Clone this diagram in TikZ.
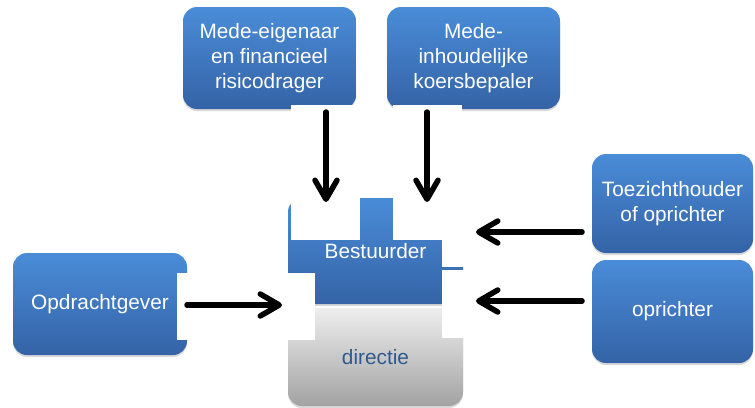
\documentclass[tikz,border=0pt]{standalone}
\usepackage{fontspec}
\setmainfont{Liberation Sans}
\usetikzlibrary{arrows.meta,shadows}
\definecolor{btop}{HTML}{4A8CD8}
\definecolor{bbot}{HTML}{3463A6}
\definecolor{gtop}{HTML}{EEEEEE}
\definecolor{gbot}{HTML}{A2A2A2}
\definecolor{dtext}{HTML}{2E5A8E}
\begin{document}
\begin{tikzpicture}[x=1pt,y=-1pt,
  box/.style={rounded corners=14pt, top color=btop, bottom color=bbot, draw=none,
    text=white, align=center, font=\fontsize{20.8}{24.8}\selectfont, inner sep=0pt,
    drop shadow={opacity=0.3,shadow xshift=0pt,shadow yshift=-2pt}},
  graybox/.style={box, top color=gtop, bottom color=gbot, text=dtext},
  wcover/.style={fill=white, draw=none},
  arr/.style={line width=5.5pt, line cap=round, -{Straight Barb[length=19pt,width=22pt,round]}}]
\useasboundingbox (0,0) rectangle (755,407);
% boxes
\node[box, minimum width=173pt, minimum height=102pt] (mede) at (269.5,58) {Mede-eigenaar\\en financieel\\risicodrager};
\node[box, minimum width=173pt, minimum height=102pt] (koers) at (473.5,58) {Mede-\\inhoudelijke\\koersbepaler};
\node[box, minimum width=161pt, minimum height=99pt] (toez) at (672.5,203.5) {Toezichthouder\\of oprichter};
\node[box, minimum width=161pt, minimum height=103pt] (opr) at (672.5,311.5) {oprichter};
\node[box, minimum width=174pt, minimum height=102pt] (opd) at (100,304) {Opdrachtgever};
\node[graybox, minimum width=175pt, minimum height=98pt] (dir) at (375.5,357) {directie};
\node[box, minimum width=175pt, minimum height=106pt] (best) at (375.5,251) {Bestuurder};
% white covers behind the arrows
\path[wcover] (291,105) rectangle (360,240);
\path[wcover] (393,105) rectangle (462,240);
\path[wcover] (442,200) rectangle (590,266.5);
\path[wcover] (442,269.5) rectangle (590,338);
\path[wcover] (177,273) rectangle (315,340);
% arrow end points
\coordinate (a1s) at (326,112); \coordinate (a1e) at (326,202);
\coordinate (a2s) at (427,112); \coordinate (a2e) at (427,202);
\coordinate (a3s) at (582,232); \coordinate (a3e) at (476,232);
\coordinate (a4s) at (582,301); \coordinate (a4e) at (476,301);
\coordinate (a5s) at (187,305); \coordinate (a5e) at (282,305);
\draw[arr] (a1s) -- (a1e);
\draw[arr] (a2s) -- (a2e);
\draw[arr] (a3s) -- (a3e);
\draw[arr] (a4s) -- (a4e);
\draw[arr] (a5s) -- (a5e);
\end{tikzpicture}
\end{document}
